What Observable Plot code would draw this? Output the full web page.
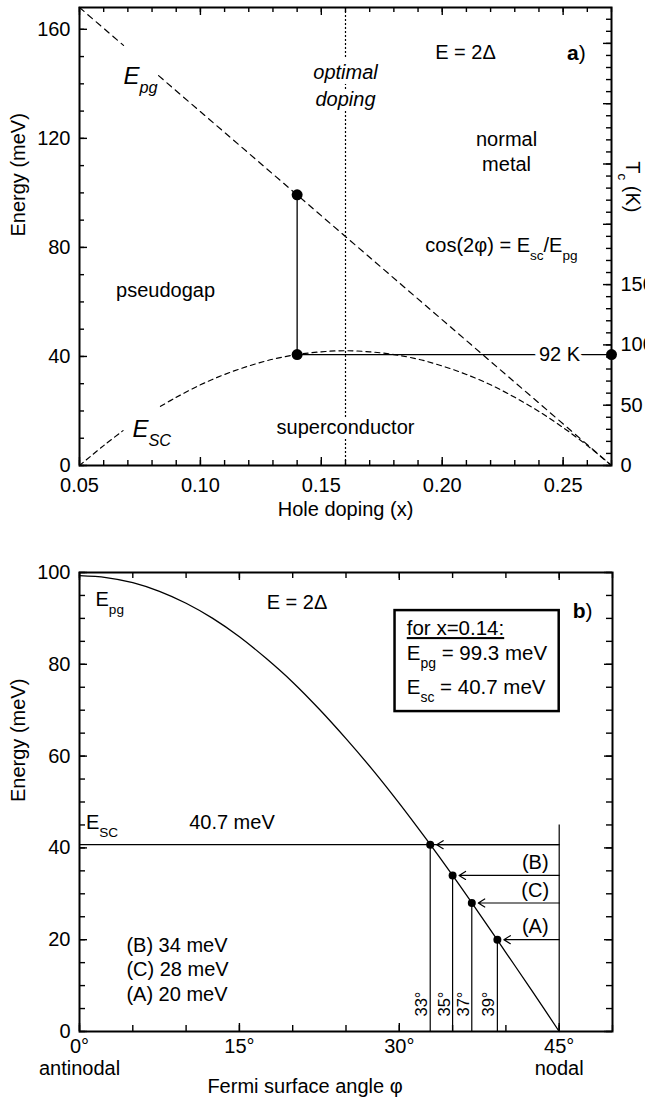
<!DOCTYPE html>
<html>
<head>
<meta charset="utf-8">
<script src="https://cdn.jsdelivr.net/npm/d3@7"></script>
<script src="https://cdn.jsdelivr.net/npm/@observablehq/plot@0.6"></script>
<style>
  body { margin: 0; background: #fff; }
  #chart { width: 645px; }
  #chart svg { display: block; }
</style>
</head>
<body>
<div id="chart"></div>
<script>
// ================= DATA =================
// Panel a: energy scales vs hole doping
const epgDoping = [0.05, 0.0682, 0.075, 0.0827, 0.27];
const epgEnergy = [168, 154.1, NaN, 143.0, 0];          // NaN = label gap
const escDoping = [0.05, 0.06, 0.068, 0.075, 0.0835, 0.09, 0.10, 0.11, 0.12, 0.13, 0.14, 0.15, 0.16,
                   0.17, 0.18, 0.19, 0.20, 0.21, 0.22, 0.23, 0.24, 0.25, 0.26, 0.27];
const escEnergy = [0, 7.3, 12.8, NaN, 21.7, 25.0, 29.6, 33.4, 36.5, 39.0, 40.7, 41.7, 42.1,
                   41.7, 40.7, 39.0, 36.5, 33.4, 29.6, 25.0, 19.8, 13.9, 7.3, 0];
const optimalDoping = 0.16;
const sampleDoping = 0.14;
const sampleEpg = 99.3;
const sampleEsc = 40.7;
const tcAtSample = 92;       // K
const dopingMax = 0.27;

// Panel b: Epg(phi)
const phiDeg = [0, 2.5, 5, 7.5, 10, 12.5, 15, 17.5, 20, 22.5, 25, 27.5, 30, 32.5, 35, 37.5, 40, 42.5, 45];
const epgPhi = [99.3, 98.9, 97.8, 95.9, 93.3, 90.0, 86.0, 81.3, 76.1, 70.2, 63.8, 57.0, 49.7, 42.0, 34.0, 25.7, 17.2, 8.7, 0];
const cutNames = ["Esc", "(B)", "(C)", "(A)"];
const cutEnergy = [40.7, 34, 28, 20];
const cutPhi = [32.9, 35.0, 36.8, 39.2];
const cutAngleLabels = ["33°", "35°", "37°", "39°"];
const nodalAngle = 45;
const nodalLineTop = 45;

// Tick values / labels
const aXMajor = [0.05, 0.10, 0.15, 0.20, 0.25];
const aYMajor = [0, 40, 80, 120, 160];
const aTcLabels = [0, 50, 100, 150];
const bXMajor = [0, 15, 30, 45];
const bYMajor = [0, 20, 40, 60, 80, 100];
const bEndLabels = ["antinodal", "nodal"];
const bEndPhi = [0, 45];
const boxLines = ["for x=0.14:", "E_{pg} = 99.3 meV", "E_{sc} = 40.7 meV"];
const boxLineEnergy = [87.8, 82.3, 75.0];
const listLines = ["(B) 34 meV", "(C) 28 meV", "(A) 20 meV"];
const listEnergy = [18.7, 13.4, 8.0];

// ================= HELPERS =================
const FONT = "'Liberation Sans', Arial, Helvetica, sans-serif";
const FS = 20;          // general text size
const W = 645;
const K_PER_MEV = tcAtSample / sampleEsc;

function frameTicks({xMajor, xMinor, yMajor, yMinor, yRMajor, yRMinor, fw, fh, major = 8, minor = 5}) {
  const o = {stroke: "black", strokeWidth: 1.4};
  return [
    Plot.tickX(xMajor, {x: d => d, insetTop: fh - major, ...o}),
    Plot.tickX(xMajor, {x: d => d, insetBottom: fh - major, ...o}),
    Plot.tickX(xMinor, {x: d => d, insetTop: fh - minor, ...o}),
    Plot.tickX(xMinor, {x: d => d, insetBottom: fh - minor, ...o}),
    Plot.tickY(yMajor, {y: d => d, insetRight: fw - major, ...o}),
    Plot.tickY(yMinor, {y: d => d, insetRight: fw - minor, ...o}),
    Plot.tickY(yRMajor, {y: d => d, insetLeft: fw - major, ...o}),
    Plot.tickY(yRMinor, {y: d => d, insetLeft: fw - minor, ...o})
  ];
}

const NS = "http://www.w3.org/2000/svg";
function richify(root) {
  root.querySelectorAll("text, tspan").forEach(el => {
    if (el.children.length) return;
    const s = el.textContent;
    if (!/_\{|\*\*/.test(s)) return;
    el.textContent = "";
    const re = /_\{([^}]*)\}|\*\*([^*]*)\*\*/g;
    let last = 0, m, shifted = false;
    const add = (txt, attrs) => {
      const t = document.createElementNS(NS, "tspan");
      for (const k in attrs) t.setAttribute(k, attrs[k]);
      t.textContent = txt;
      el.appendChild(t);
    };
    while ((m = re.exec(s))) {
      if (m.index > last) { add(s.slice(last, m.index), shifted ? {dy: "-0.38em"} : {}); shifted = false; }
      if (m[1] !== undefined) { add(m[1], {dy: "0.56em", "font-size": "0.68em"}); shifted = true; }
      else add(m[2], {"font-weight": "bold"});
      last = re.lastIndex;
    }
    if (last < s.length) add(s.slice(last), shifted ? {dy: "-0.38em"} : {});
  });
  root.querySelectorAll("text").forEach(el => {
    if (el.textContent === boxLines[0]) el.setAttribute("text-decoration", "underline");
  });
}

const halo = {stroke: "white", strokeWidth: 10, fill: "black"};

// ================= PANEL A =================
const aM = {top: 7, right: 34, bottom: 75, left: 79};
const aH = 540;
const aFW = W - aM.left - aM.right, aFH = aH - aM.top - aM.bottom;
const aYMax = 168;

const epgPts = epgDoping.map((x, i) => ({x, E: epgEnergy[i]}));
const escPts = escDoping.map((x, i) => ({x, E: escEnergy[i]}));
const sample = [{x: sampleDoping, epg: sampleEpg, esc: sampleEsc}];
const aDots = [
  {x: sampleDoping, E: sampleEpg},
  {x: sampleDoping, E: sampleEsc},
  {x: dopingMax, E: sampleEsc}
];
const tcMinor = d3.range(0, 381, 10).map(t => t / K_PER_MEV).filter(v => v <= aYMax);
const tcMajor = d3.range(0, 381, 50).map(t => t / K_PER_MEV).filter(v => v <= aYMax);

const panelA = Plot.plot({
  width: W, height: aH,
  marginTop: aM.top, marginRight: aM.right, marginBottom: aM.bottom, marginLeft: aM.left,
  x: {domain: [0.05, dopingMax], axis: null},
  y: {domain: [0, aYMax], axis: null},
  style: {fontFamily: FONT, fontSize: FS + "px", color: "black", background: "white"},
  marks: [
    Plot.line(epgPts, {x: "x", y: "E", stroke: "black", strokeWidth: 1.2, strokeDasharray: "6,5"}),
    Plot.line(escPts, {x: "x", y: "E", stroke: "black", strokeWidth: 1.2, strokeDasharray: "5,4", curve: "catmull-rom"}),
    Plot.ruleX([optimalDoping], {stroke: "black", strokeWidth: 1.2, strokeDasharray: "2,2"}),
    Plot.ruleX(sample, {x: "x", y1: "esc", y2: "epg", stroke: "black", strokeWidth: 1.3}),
    Plot.ruleY(sample, {y: "esc", x1: "x", x2: () => dopingMax, stroke: "black", strokeWidth: 1.3}),
    Plot.dot(aDots, {x: "x", y: "E", r: 5.5, fill: "black"}),
    // labels
    Plot.text(["optimal\ndoping"], {x: optimalDoping, y: 139.9, fontStyle: "italic", fontSize: FS, lineHeight: 1.33, ...halo}),
    Plot.text(["superconductor"], {x: optimalDoping, y: 14, fontSize: FS, ...halo}),
    Plot.text([tcAtSample + " K"], {x: 0.2485, y: sampleEsc, fontSize: FS, ...halo}),
    Plot.text(["E = 2Δ"], {x: 0.2096, y: 151.3, fontSize: FS}),
    Plot.text(["**a**)"], {x: 0.2555, y: 151.3, fontSize: 21}),
    Plot.text(["normal\nmetal"], {x: 0.2266, y: 115.4, fontSize: FS, lineHeight: 1.25}),
    Plot.text(["pseudogap"], {x: 0.0856, y: 64.2, fontSize: FS}),
    Plot.text(["cos(2φ) = E_{sc}/E_{pg}"], {x: 0.193, y: 80.7, fontSize: FS, textAnchor: "start"}),
    Plot.text(["E_{pg}"], {x: 0.0682, y: 142.7, fontSize: 24, fontStyle: "italic", textAnchor: "start"}),
    Plot.text(["E_{SC}"], {x: 0.0719, y: 13.4, fontSize: 24, fontStyle: "italic", textAnchor: "start"}),
    // axes
    ...frameTicks({
      xMajor: aXMajor, xMinor: d3.range(0.05, 0.2701, 0.01),
      yMajor: aYMajor, yMinor: d3.range(0, aYMax, 10),
      yRMajor: tcMajor, yRMinor: tcMinor, fw: aFW, fh: aFH
    }),
    Plot.axisX(aXMajor, {anchor: "bottom", tickSize: 0, tickPadding: 12, fontSize: FS, tickFormat: d3.format(".2f"), label: null}),
    Plot.axisY(aYMajor, {anchor: "left", tickSize: 0, tickPadding: 9, fontSize: FS, label: null}),
    Plot.axisY(aTcLabels.map(t => t / K_PER_MEV), {anchor: "right", tickSize: 0, tickPadding: 9, fontSize: FS,
      tickFormat: d => Math.round(d * K_PER_MEV), label: null}),
    Plot.text(["Hole doping (x)"], {frameAnchor: "bottom", dy: 50, fontSize: FS}),
    Plot.text(["Energy (meV)"], {frameAnchor: "left", dx: -61, rotate: -90, fontSize: FS}),
    Plot.text(["T_{c} (K)"], {frameAnchor: "right", dx: 21, dy: -24, rotate: 90, fontSize: FS}),
    Plot.frame({stroke: "black", strokeWidth: 2})
  ]
});

// ================= PANEL B =================
const bM = {top: 32, right: 33, bottom: 72, left: 79};
const bH = 563;
const bFW = W - bM.left - bM.right, bFH = bH - bM.top - bM.bottom;

const curvePts = phiDeg.map((p, i) => ({p, E: epgPhi[i]}));
const cuts = cutNames.map((n, i) => ({name: n, E: cutEnergy[i], p: cutPhi[i], ang: cutAngleLabels[i]}));
const infoBox = [{x1: 29.6, x2: 45.0, y1: 69.7, y2: 91.7}];

const panelB = Plot.plot({
  width: W, height: bH,
  marginTop: bM.top, marginRight: bM.right, marginBottom: bM.bottom, marginLeft: bM.left,
  x: {domain: [0, 50], axis: null},
  y: {domain: [0, 100], axis: null},
  style: {fontFamily: FONT, fontSize: FS + "px", color: "black", background: "white"},
  marks: [
    Plot.line(curvePts, {x: "p", y: "E", stroke: "black", strokeWidth: 1.3, curve: "catmull-rom"}),
    Plot.ruleY([sampleEsc], {x1: 0, x2: nodalAngle, stroke: "black", strokeWidth: 1.2}),
    Plot.ruleX([nodalAngle], {y1: 0, y2: nodalLineTop, stroke: "black", strokeWidth: 1.2}),
    Plot.ruleX(cuts, {x: "p", y1: 0, y2: "E", stroke: "black", strokeWidth: 1.2}),
    Plot.arrow(cuts, {x1: () => nodalAngle, x2: "p", y1: "E", y2: "E", stroke: "black", strokeWidth: 1.2,
      headLength: 9.5, headAngle: 64, insetEnd: 6.5}),
    Plot.dot(cuts, {x: "p", y: "E", r: 4, fill: "black"}),
    Plot.text(cuts.slice(1), {x: 42.75, y: d => d.E + 2.8, text: "name", fontSize: FS}),
    Plot.text(cuts, {x: "p", y: 0, text: "ang", rotate: -90, textAnchor: "start", lineAnchor: "bottom",
      dx: -3, dy: -15, fontSize: 16.5}),
    // box
    Plot.rect(infoBox, {x1: "x1", x2: "x2", y1: "y1", y2: "y2", fill: "white", stroke: "black", strokeWidth: 2.5}),
    Plot.text(boxLines, {x: 30.7, y: (d, i) => boxLineEnergy[i], textAnchor: "start", fontSize: 20.5}),
    // labels
    Plot.text(["E_{pg}"], {x: 1.5, y: 94.1, textAnchor: "start", fontSize: FS}),
    Plot.text(["E = 2Δ"], {x: 20.4, y: 93.5, fontSize: FS}),
    Plot.text(["**b**)"], {x: 47.2, y: 91.6, fontSize: 21}),
    Plot.text(["E_{SC}"], {x: 0.6, y: 45.5, textAnchor: "start", fontSize: FS}),
    Plot.text([sampleEsc + " meV"], {x: 14.3, y: 45.5, fontSize: FS}),
    Plot.text(listLines, {x: 4.4, y: (d, i) => listEnergy[i], textAnchor: "start", fontSize: FS}),
    // axes
    ...frameTicks({
      xMajor: bXMajor, xMinor: d3.range(0, 51, 5),
      yMajor: bYMajor, yMinor: d3.range(0, 101, 5),
      yRMajor: bYMajor, yRMinor: d3.range(0, 101, 5), fw: bFW, fh: bFH, major: 8, minor: 6
    }),
    Plot.axisX(bXMajor, {anchor: "bottom", tickSize: 0, tickPadding: 7, fontSize: FS, tickFormat: d => d + "°", label: null}),
    Plot.text(bEndLabels, {x: (d, i) => bEndPhi[i], frameAnchor: "bottom", dy: 43, fontSize: FS}),
    Plot.axisY(bYMajor, {anchor: "left", tickSize: 0, tickPadding: 9, fontSize: FS, label: null}),
    Plot.text(["Fermi surface angle φ"], {frameAnchor: "bottom", dx: -41, dy: 61, fontSize: FS}),
    Plot.text(["Energy (meV)"], {frameAnchor: "left", dx: -61, rotate: -90, fontSize: FS}),
    Plot.frame({stroke: "black", strokeWidth: 2})
  ]
});

const chart = document.getElementById("chart");
chart.appendChild(panelA);
chart.appendChild(panelB);
richify(panelA);
richify(panelB);
</script>
</body>
</html>
